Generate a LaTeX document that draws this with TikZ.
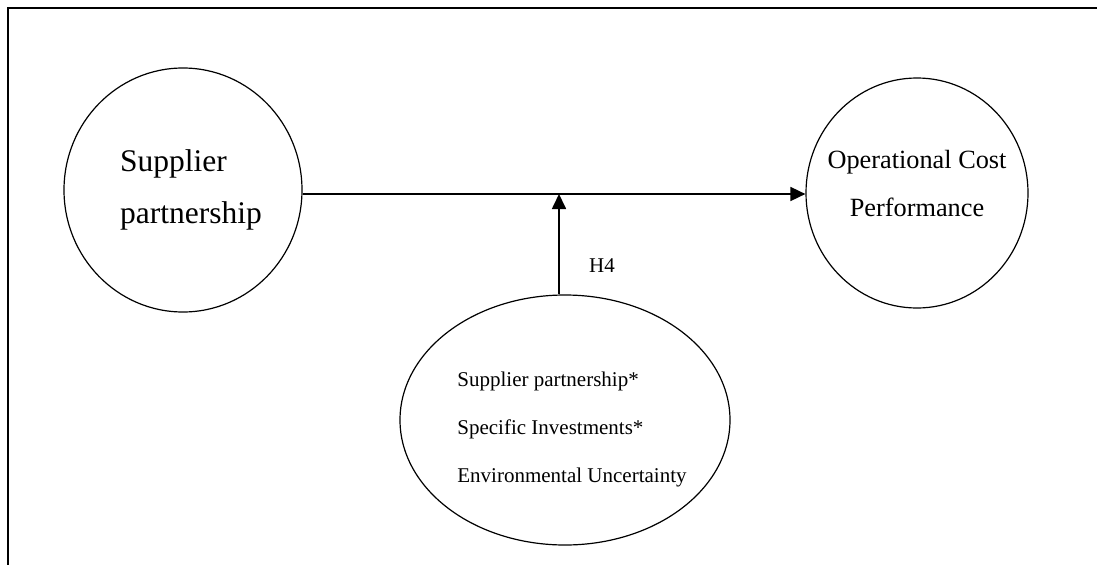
\documentclass[tikz,border=0pt]{standalone}
\usepackage{fontspec}
\setmainfont{Liberation Serif}
\usetikzlibrary{arrows.meta,shapes.geometric}
\begin{document}
\begin{tikzpicture}[x=1pt, y=1pt,
    ring/.style={draw, ellipse, line width=1.2pt, inner sep=0pt},
    link/.style={line width=1.7pt, -{Triangle[length=15pt, width=14pt]}},
    bigtxt/.style={font=\fontsize{31.5}{52}\selectfont, align=left},
    midtxt/.style={font=\fontsize{26.3}{48}\selectfont, align=center},
    smalltxt/.style={font=\fontsize{21}{48}\selectfont, align=left}]
        \useasboundingbox (0,0) rectangle (1098,-565);

        % frame, open at the right and bottom
        \draw[line width=2pt] (7.5,-565) -- (7.5,-7.5) -- (1097,-7.5);

        \node[ring, minimum width=238pt, minimum height=244pt,
              label={[bigtxt, name=sptxt, xshift=8pt]center:Supplier\\partnership}] (sp) at (183,-190) {};
        \node[ring, minimum width=222pt, minimum height=230pt,
              label={[midtxt, name=ocptxt, yshift=9pt]center:Operational Cost\\Performance}] (ocp) at (917,-193) {};
        \node[ring, minimum width=330pt, minimum height=250pt,
              label={[smalltxt, name=modtxt, xshift=7pt, yshift=-9pt]center:Supplier partnership*\\Specific Investments*\\Environmental Uncertainty}] (mod) at (565,-420) {};

        \coordinate (mid) at (559,-194);
        \node[smalltxt] (h4) at (602,-266) {H4};

        \draw[link] (sp.east |- mid) -- (ocp.west |- mid);
        \draw[link] (mid |- mod.north) -- (mid);
\end{tikzpicture}
\end{document}
